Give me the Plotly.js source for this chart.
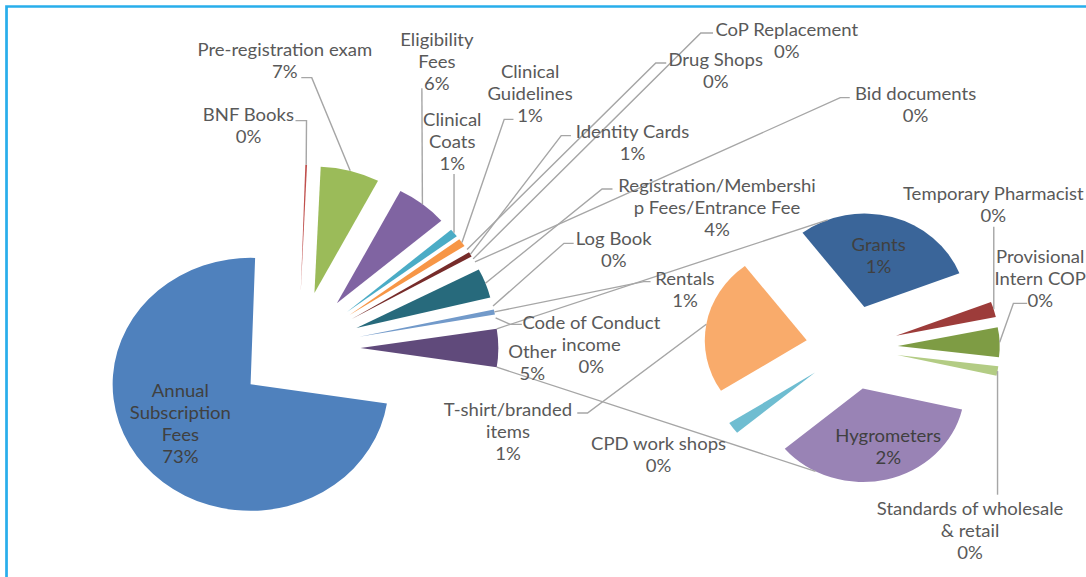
<!DOCTYPE html>
<html><head><meta charset="utf-8">
<script src="https://cdn.plot.ly/plotly-3.0.1.min.js"></script>
<style>
html,body{margin:0;padding:0;background:#fff;overflow:hidden;width:1086px;height:577px}
#chart{width:996px;height:577px;transform:scaleX(1.0904);transform-origin:0 0}
</style></head><body><div id="chart"></div>
<script>
// ---------- data ----------
const mainCategories = ['Annual Subscription Fees','BNF Books','Pre-registration exam','Eligibility Fees','Clinical Coats','Clinical Guidelines','Drug Shops','Identity Cards','CoP Replacement','Bid documents','Registration/Membership Fees/Entrance Fee','Log Book','Rentals','Code of Conduct income'];
const mainValues = [73.1, 0.2, 6.9, 6.05, 1.05, 1.05, 0.4, 0.6, 0.3, 0.3, 3.75, 0.4, 0.65, 0.4];
const secondaryCategories = ['Grants','Temporary Pharmacist','Provisional Intern COP','Standards of wholesale & retail','Hygrometers','CPD work shops','T-shirt/branded items'];
const secondaryValues = [1.43, 0.13, 0.25, 0.08, 1.71, 0.10, 1.15];
const otherCategory = 'Other';

// ---------- display text (wrapped as in the original) ----------
const mainWrapped = ['Annual<br>Subscription<br>Fees','BNF Books','Pre-registration exam','Eligibility<br>Fees','Clinical<br>Coats','Clinical<br>Guidelines','Drug Shops','Identity Cards','CoP Replacement','Bid documents','Registration/Membershi<br>p Fees/Entrance Fee','Log Book','Rentals','Code of Conduct<br>income','Other'];
const secWrapped = ['Grants','Temporary Pharmacist','Provisional<br>Intern COP','Standards of wholesale<br>& retail','Hygrometers','CPD work shops','T-shirt/branded<br>items'];

// ---------- styles ----------
const NONE = 'rgba(0,0,0,0)';
const mainColors = ['#4F81BD','#C0504D','#9BBB59','#8064A2','#4BACC6','#F79646',NONE,'#772C2A',NONE,NONE,'#276A7C',NONE,'#729ACA',NONE,'#604A7B'];
const secColors = ['#3A6599','#9D3C3A','#7E9C44','#B3CC84','#9983B5','#6FBDD1','#F9AB6B'];
const pullAmount = 0.45;
const secondaryRotation = -37.35;
const FONT = 'Lato, "Open Sans", sans-serif';
const LABEL_COLOR = '#595959';
const INSIDE_COLOR = '#404040';
const LINE_COLOR = '#A6A6A6';
const W = 996, H = 577;

// label block centres (px, un-stretched plot space); inside labels flagged
const mainLabelPos = [[165,423.3],[227.5,126],[261.3,60.5],[400.9,61.5],[414.7,141.7],[486.2,94],[656,70.5],[579.8,142],[721.1,41],[839.4,104],[657.8,207.5],[563.3,249.5],[628,289],[542.2,344.3],[488.1,362]];
const mainInside = [0];
const secLabelPos = [[805.5,255],[910.6,204],[954.1,279],[889.9,530.7],[814.7,446],[603.7,454],[465.6,431.7]];
const secInside = [0,4];
// leader-line start points from the label (px); {v:y} = vertical line from y
const mainLeaders = [null,[[271,120.7],[281.1,120.7]],[[276.3,77.7],[285.9,77.7]],[[386.9,88.3]],{v:174},[[470.9,119.3],[462.4,119.3]],[[611,63],[601.4,63]],[[523.6,135.7],[514.7,135.7]],[[653.9,33],[642.7,33]],[[779.3,97.7],[770.6,97.7]],[[561.7,189],[552.2,189]],[[526.1,243.3],[517.2,243.3]],[[596.6,281.7],[590.3,281.7]],[[478.6,324.3],[467.9,324.3]],null];
const secLeaders = [null,{v:226.7},[[942,303.3],[929.4,303.3]],{v:494.7},null,null,[[529.4,413],[538.8,413]]];
// clock angles (deg) where the series lines meet the secondary pie
const seriesLineAngles = [-21, 207.6];

// ---------- derived ----------
const otherValue = secondaryValues.reduce((a,b)=>a+b,0);
const mainAll = mainValues.concat([otherValue]);
const mainLabels = mainCategories.concat([otherCategory]);
const grand = mainAll.reduce((a,b)=>a+b,0);
const pct = v => Math.round(v/grand*100) + '%';
const mainRotation = 90 + 180*otherValue/grand;   // "Other" faces the second pie

const px2paper = (x,y)=>[x/W, 1-y/H];

const traces = [
  {type:'pie', labels:mainLabels, values:mainAll, sort:false, direction:'clockwise',
   rotation:mainRotation, pull:pullAmount, marker:{colors:mainColors, line:{width:0}},
   textinfo:'none', domain:{x:[0.08394,0.46546], y:[0.07899,0.71477]}, hoverinfo:'label+percent'},
  {type:'pie', labels:secondaryCategories, values:secondaryValues, sort:false, direction:'clockwise',
   rotation:secondaryRotation, pull:pullAmount, marker:{colors:secColors, line:{width:0}},
   textinfo:'none', domain:{x:[0.63886,0.93002], y:[0.1626,0.63254]}, hoverinfo:'label+value'}
];

const annotations = [];
function addLabel(pos, txt, inside){
  if(!pos) return;
  const p = px2paper(pos[0], pos[1]);
  annotations.push({xref:'paper', yref:'paper', x:p[0], y:p[1], xanchor:'center', yanchor:'middle',
    align:'center', showarrow:false, text:txt,
    font:{family:FONT, size:17, color: inside ? INSIDE_COLOR : LABEL_COLOR}});
}
mainAll.forEach((v,i)=> addLabel(mainLabelPos[i], mainWrapped[i]+'<br>'+pct(v), mainInside.includes(i)));
secondaryValues.forEach((v,i)=> addLabel(secLabelPos[i], secWrapped[i]+'<br>'+pct(v), secInside.includes(i)));

const layout = {
  width:W, height:H, margin:{l:0,r:0,t:0,b:0}, showlegend:false,
  paper_bgcolor:'#fff', plot_bgcolor:'#fff', annotations:annotations,
  shapes:[{type:'rect', xref:'paper', yref:'paper', x0:0.006, x1:1.03, y0:-0.03, y1:0.9887,
           line:{color:'#29AEEB', width:2.5}, fillcolor:'rgba(0,0,0,0)'}]
};

const gd = document.getElementById('chart');
Plotly.newPlot(gd, traces, layout, {staticPlot:true}).then(function(){
  const sz = gd._fullLayout._size;
  const toP = p => [(p[0]-sz.l)/sz.w, 1-(p[1]-sz.t)/sz.h];
  function apex(ti,i){ const cd=gd.calcdata[ti], c0=cd[0], pt=cd[i];
    return [c0.cx + pullAmount*pt.pxmid[0], c0.cy + pullAmount*pt.pxmid[1]]; }
  function outerMid(ti,i){ const a=apex(ti,i), pt=gd.calcdata[ti][i]; return [a[0]+pt.pxmid[0], a[1]+pt.pxmid[1]]; }
  function pathOf(pts){ return pts.map((p,k)=>{const q=toP(p); return (k?'L':'M')+q[0].toFixed(5)+','+q[1].toFixed(5);}).join(' '); }
  const shapes = layout.shapes.slice();
  function addLeaders(ti, leaders){
    leaders.forEach((ld,i)=>{
      if(!ld) return;
      const end = outerMid(ti,i);
      const pts = Array.isArray(ld) ? ld.concat([end]) : [[end[0], ld.v], end];
      shapes.push({type:'path', xref:'paper', yref:'paper', path:pathOf(pts), line:{color:LINE_COLOR, width:1.3}});
    });
  }
  addLeaders(0, mainLeaders);
  addLeaders(1, secLeaders);
  // series lines: "Other" slice corners -> secondary pie
  const oi = mainAll.length-1, oPt = gd.calcdata[0][oi], oA = apex(0,oi);
  const topC = [oA[0]+oPt.px0[0], oA[1]+oPt.px0[1]], botC = [oA[0]+oPt.px1[0], oA[1]+oPt.px1[1]];
  const r2 = gd.calcdata[1][0].r;
  function onSecondary(angleDeg){
    const cd = gd.calcdata[1];
    const a = angleDeg*Math.PI/180;
    let idx = 0;
    for(let k=0;k<cd.length;k++){
      const s=cd[k].startangle, e=cd[k].stopangle; let t=a;
      while(t<s) t+=2*Math.PI; while(t>s+2*Math.PI) t-=2*Math.PI;
      if(t<=e){ idx=k; break; }
    }
    const ap = apex(1,idx);
    return [ap[0]+r2*Math.sin(a), ap[1]-r2*Math.cos(a)];
  }
  shapes.push({type:'path', xref:'paper', yref:'paper', path:pathOf([topC, onSecondary(seriesLineAngles[0])]), line:{color:LINE_COLOR, width:1.3}});
  shapes.push({type:'path', xref:'paper', yref:'paper', path:pathOf([botC, onSecondary(seriesLineAngles[1])]), line:{color:LINE_COLOR, width:1.3}});
  return Plotly.relayout(gd, {shapes:shapes});
});
</script></body></html>
